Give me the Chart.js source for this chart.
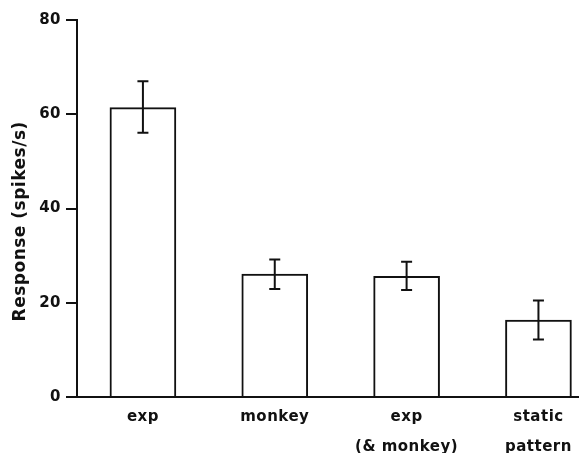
<!DOCTYPE html>
<html>
<head>
<meta charset="utf-8">
<script src="https://cdn.jsdelivr.net/npm/chart.js@4/dist/chart.umd.min.js"></script>
<style>
    html, body { margin: 0; padding: 0; background: #fff; }
    #wrap { width: 579px; height: 453px; }
</style>
</head>
<body>
<div id="wrap"><canvas id="chart" width="579" height="453"></canvas></div>
<script>
const categories = ["exp", "monkey", ["exp", "(& monkey)"], ["static", "pattern"]];
const positions = [0, 1, 2, 3];
const responses = [61.4, 26.1, 25.6, 16.3];
const errUpper = [67.0, 29.2, 28.7, 20.5];
const errLower = [56.1, 22.9, 22.7, 12.2];
const yTicks = [0, 20, 40, 60, 80];

const INK = "#111";
const LINE = 2;
const FONT = "'DejaVu Sans', 'Liberation Sans', sans-serif";

// the original lettering is slightly tracked
const tracking = {
    id: "tracking",
    beforeUpdate(chart) { chart.ctx.letterSpacing = "0.5px"; },
    beforeDraw(chart) { chart.ctx.letterSpacing = "0.5px"; }
};

// draws the error bars from the arrays above via the chart scales
const errorBars = {
    id: "errorBars",
    afterDatasetsDraw(chart) {
        const ctx = chart.ctx;
        const xs = chart.scales.x;
        const ys = chart.scales.y;
        ctx.save();
        ctx.strokeStyle = INK;
        ctx.lineWidth = LINE;
        for (let i = 0; i < positions.length; i++) {
            let x = xs.getPixelForValue(positions[i]);
            let top = ys.getPixelForValue(errUpper[i]);
            let bot = ys.getPixelForValue(errLower[i]);
            ctx.beginPath();
            ctx.moveTo(x, top); ctx.lineTo(x, bot);
            ctx.moveTo(x - 5.5, top); ctx.lineTo(x + 5.5, top);
            ctx.moveTo(x - 5.5, bot); ctx.lineTo(x + 5.5, bot);
            ctx.stroke();
        }
        ctx.restore();
    }
};

new Chart(document.getElementById("chart"), {
    type: "bar",
    data: {
        datasets: [{
            data: positions.map((p, i) => ({x: p, y: responses[i]})),
            backgroundColor: "#fff",
            borderColor: INK,
            borderWidth: LINE,
            borderSkipped: "bottom",
            barThickness: 66
        }]
    },
    options: {
        responsive: false,
        animation: false,
        layout: { padding: { top: 20, right: 1, left: 0, bottom: 0 } },
        plugins: { legend: { display: false }, tooltip: { enabled: false } },
        scales: {
            x: {
                type: "linear",
                offset: false,
                min: -0.5,
                max: 3.3,
                afterBuildTicks: (scale) => { scale.ticks = positions.map(v => ({value: v})); },
                ticks: {
                    callback: (v) => categories[v],
                    color: INK,
                    font: { family: FONT, size: 15, weight: "bold", lineHeight: 2 },
                    maxRotation: 0,
                    padding: -3
                },
                grid: { display: false },
                border: { display: true, color: INK, width: LINE },
                afterFit: (scale) => { scale.height = 56; }
            },
            y: {
                min: 0,
                max: 80,
                afterBuildTicks: (scale) => { scale.ticks = yTicks.map(v => ({value: v})); },
                ticks: {
                    color: INK,
                    font: { family: FONT, size: 15, weight: "bold" },
                    padding: 5
                },
                grid: { drawOnChartArea: false, drawTicks: true, tickLength: 11, color: INK, lineWidth: LINE },
                border: { display: true, color: INK, width: LINE },
                title: {
                    display: true,
                    // trailing spaces nudge the centred title down to where the original sits
                    text: "Response (spikes/s)\u00a0\u00a0\u00a0\u00a0",
                    color: INK,
                    font: { family: FONT, size: 17, weight: "bold" },
                    padding: { top: 10, bottom: 0 }
                },
                afterFit: (scale) => { scale.width = 77; }
            }
        }
    },
    plugins: [tracking, errorBars]
});
</script>
</body>
</html>
